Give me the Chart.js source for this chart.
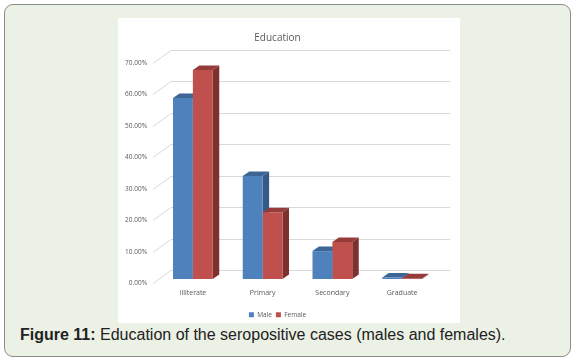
<!DOCTYPE html>
<html>
<head>
<meta charset="utf-8">
<script src="https://cdn.jsdelivr.net/npm/chart.js@4"></script>
<style>
  body { margin: 0; width: 576px; height: 364px; background: #fff; position: relative; overflow: hidden; }
  #frame { position: absolute; left: 4px; top: 4px; width: 565px; height: 351px; border: 1.5px solid #8c8c8c; border-radius: 9px; background: #ebf1e5; }
  #box { position: absolute; left: 118px; top: 18px; width: 342px; height: 305px; background: #fff; }
  #caption { position: absolute; left: 20px; top: 326px; font-family: "Liberation Sans", Arial, sans-serif; font-size: 16px; color: #222; white-space: nowrap; }
</style>
</head>
<body>
<div id="frame"></div>
<div id="box"><canvas id="eduChart" width="342" height="305"></canvas></div>
<div id="caption"><b>Figure 11:</b> Education of the seropositive cases (males and females).</div>
<script>
// data, in percent
var categories = ['Illiterate', 'Primary', 'Secondary', 'Graduate'];
var maleValues = [57.6, 32.8, 8.9, 0.5];
var femaleValues = [66.5, 21.3, 11.8, 0.3];
var yTicks = [0, 10, 20, 30, 40, 50, 60, 70];

// 3D look: back wall offset and bar depth
var wallDx = 13, wallDy = -9;
var frontDx = -5, frontDy = 4;
var barDx = 6.5, barDy = -4.5;

var faceColors = [
    { top: '#3d6596', side: '#365a87' },
    { top: '#953c3a', side: '#7e302e' }
];

var fake3d = {
    id: 'fake3d',
    beforeDatasetsDraw: function(chart) {
        var c = chart.ctx, area = chart.chartArea, y = chart.scales.y;
        c.save();
        c.strokeStyle = '#d9d9d9';
        c.lineWidth = 1;
        yTicks.forEach(function(v) {
            var py = Math.round(y.getPixelForValue(v)) + 0.5;
            c.beginPath();
            c.moveTo(area.left + frontDx, py + frontDy);
            c.lineTo(area.left + wallDx, py + wallDy);
            c.lineTo(area.right + wallDx, py + wallDy);
            c.stroke();
        });
        // side and top faces, drawn before the fronts
        for (var j = 0; j < categories.length; j++) {
            for (var i = 0; i < 2; i++) {
                var bar = chart.getDatasetMeta(i).data[j];
                var l = bar.x - bar.width / 2, r = bar.x + bar.width / 2;
                var t = bar.y, b = bar.base;
                c.fillStyle = faceColors[i].side;
                c.beginPath();
                c.moveTo(r, b); c.lineTo(r, t);
                c.lineTo(r + barDx, t + barDy); c.lineTo(r + barDx, b + barDy);
                c.closePath(); c.fill();
                c.fillStyle = faceColors[i].top;
                c.beginPath();
                c.moveTo(l, t); c.lineTo(r, t);
                c.lineTo(r + barDx, t + barDy); c.lineTo(l + barDx, t + barDy);
                c.closePath(); c.fill();
            }
        }
        c.restore();
    }
};

var ctx = document.getElementById('eduChart').getContext('2d');
var eduChart = new Chart(ctx, {
    type: 'bar',
    data: {
        labels: categories,
        datasets: [{
            label: 'Male',
            data: maleValues,
            backgroundColor: '#4f81bd'
        }, {
            label: 'Female',
            data: femaleValues,
            backgroundColor: '#c0504d'
        }]
    },
    options: {
        responsive: false,
        animation: false,
        layout: { padding: { left: 0, right: 23, top: 0, bottom: -5 } },
        datasets: { bar: { barPercentage: 1, categoryPercentage: 0.57, borderWidth: 0 } },
        plugins: {
            title: {
                display: true,
                text: 'Education',
                color: '#595959',
                font: { family: 'Open Sans', size: 10, weight: 'normal' },
                padding: { top: 14, bottom: 15 }
            },
            legend: {
                position: 'bottom',
                labels: {
                    boxWidth: 5, boxHeight: 5, padding: 4,
                    color: '#595959',
                    font: { family: 'Open Sans', size: 6.5 }
                }
            },
            tooltip: { enabled: false }
        },
        scales: {
            x: {
                grid: { display: false, drawTicks: false },
                border: { display: false },
                ticks: { color: '#595959', font: { family: 'Open Sans', size: 7 }, padding: 10 }
            },
            y: {
                min: 0, max: 70,
                afterFit: function(scale) { scale.width = 40; },
                afterBuildTicks: function(scale) { scale.ticks = yTicks.map(function(v) { return { value: v }; }); },
                grid: { display: false, drawTicks: false },
                border: { display: false },
                ticks: {
                    color: '#595959',
                    font: { family: 'Open Sans', size: 6.5 },
                    padding: 11,
                    labelOffset: frontDy,
                    callback: function(v) { return v.toFixed(2) + '%'; }
                }
            }
        }
    },
    plugins: [fake3d]
});
</script>
</body>
</html>
